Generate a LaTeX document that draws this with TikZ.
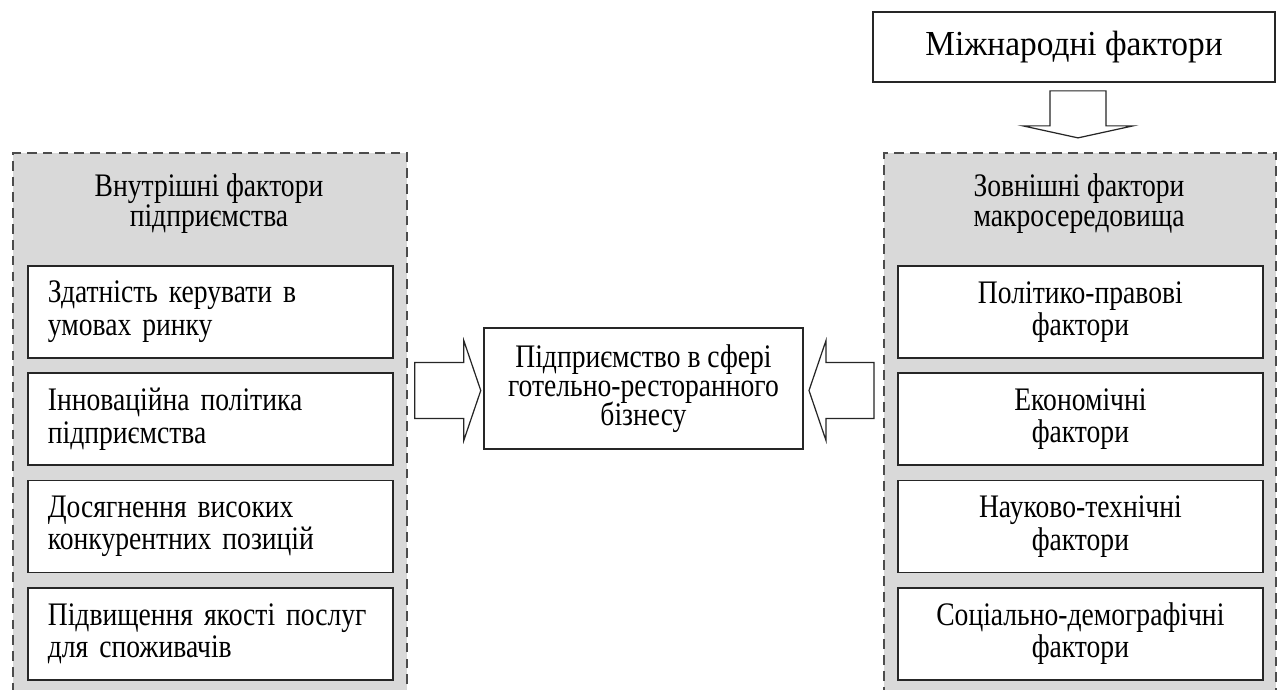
\documentclass[tikz,border=0pt]{standalone}
\usepackage{fontspec}
\setmainfont{Liberation Serif}[FakeStretch=0.84]
\newfontfamily\titlefont{Liberation Serif}[FakeStretch=0.95]
\usetikzlibrary{positioning}

\definecolor{panelgray}{RGB}{217,217,217}

\tikzset{
  panel/.style={draw=black!70, dash pattern=on 5.5pt off 3.5pt, line width=1pt,
    fill=panelgray, minimum height=11.6cm, anchor=north west, inner sep=0pt},
  head/.style={align=center, font=\fontsize{18.7}{17}\selectfont},
  factor/.style={draw=black!85, line width=1pt, fill=white, minimum height=1.84cm,
    text width=6.5cm, inner xsep=0.4cm, font=\fontsize{18.7}{18.5}\selectfont},
  hollow/.style={draw=black!85, line width=0.7pt, fill=white, line join=miter},
}

\begin{document}
\begin{tikzpicture}[x=0.2mm, y=0.2mm]
  \useasboundingbox (0,0) rectangle (1277,-689);

  % the two groups of factors
  \node[panel, minimum width=7.88cm] (inner) at (12,-152) {};
  \node[panel, minimum width=7.84cm] (outer) at (883,-152) {};

  \node[head] (innerhead) at (209,-204) {Внутрішні фактори\\підприємства};
  \node[head] (outerhead) at (1079,-204) {Зовнішні фактори\\макросередовища};

  % internal factors
  \begin{scope}[node distance=0.27cm, every node/.append style={factor, align=left}]
    \node[anchor=north west] (i1) at (27,-265) {Здатність керувати в\\умовах ринку};
    \node[below=of i1] (i2) {Інноваційна політика\\підприємства};
    \node[below=of i2] (i3) {Досягнення високих\\конкурентних позицій};
    \node[below=of i3] (i4) {Підвищення~якості~послуг\\для споживачів};
  \end{scope}

  % external factors
  \begin{scope}[node distance=0.27cm, every node/.append style={factor, align=center}]
    \node[anchor=north west] (o1) at (897,-265) {Політико-правові\\фактори};
    \node[below=of o1] (o2) {Економічні\\фактори};
    \node[below=of o2] (o3) {Науково-технічні\\фактори};
    \node[below=of o3] (o4) {Соціально-демографічні\\фактори};
  \end{scope}

  % enterprise and international level
  \node[draw=black!85, line width=1pt, minimum width=6.38cm, minimum height=2.42cm,
    align=center, font=\fontsize{18.7}{18.7}\selectfont] (firm) at (643.5,-388.5)
    {Підприємство в сфері\\[-2pt]готельно-ресторанного\\[-2pt]бізнесу};
  \node[draw=black!85, line width=1pt, minimum width=8.04cm, minimum height=1.4cm,
    font=\titlefont\fontsize{20}{22}\selectfont] (intl) at (1074,-47) {Міжнародні фактори};

  % block arrows
  \draw[hollow] (inner.east |- firm.center) ++(7,-2) ++(0,28)
    -- ++(49,0) -- ++(0,22) -- ++(17,-50) -- ++(-17,-50) -- ++(0,22) -- ++(-49,0) -- cycle;
  \draw[hollow] (outer.west |- firm.center) ++(-9,-2) ++(0,28)
    -- ++(-48,0) -- ++(0,22) -- ++(-17,-50) -- ++(17,-50) -- ++(0,22) -- ++(48,0) -- cycle;
  \draw[hollow] (intl.south) ++(4,-8) ++(-28,0)
    -- ++(0,-35) -- ++(-27,0) -- ++(55,-12) -- ++(55,12) -- ++(-27,0) -- ++(0,35) -- cycle;
\end{tikzpicture}
\end{document}
